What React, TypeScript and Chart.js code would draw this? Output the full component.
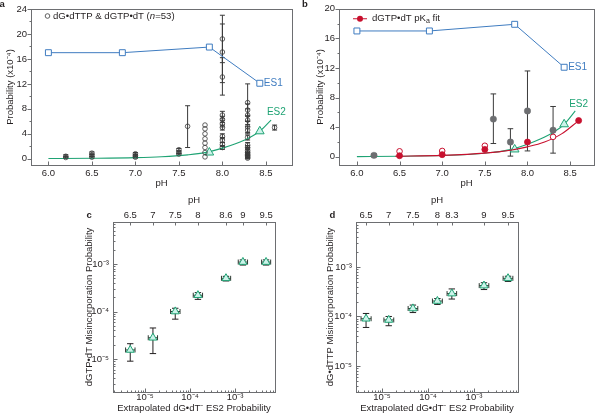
import React, { useEffect, useRef } from 'react';
import { Chart, registerables } from 'chart.js';

Chart.register(...registerables);

const FONT = '"Liberation Sans", Arial, Helvetica, sans-serif';
const TEXT = '#231f20';
const AXIS = '#6d6e71';
const BLUE = '#3f7cc0';
const GREEN = '#1fa374';
const TRI_FILL = '#cdf3ea';
const RED = '#c8102e';
const GREY = '#6d6e71';
const DARK = '#3a3a3a';

Chart.defaults.font.family = FONT;
Chart.defaults.font.size = 9.5;
Chart.defaults.color = TEXT;

// ---------------- panels a & b : probability vs pH ----------------
const ES1_PH = [6.0, 6.85, 7.85, 8.43];
const ES1_PROB = [17.0, 17.0, 17.9, 12.1];
const ES2_PH = [7.85, 8.43];
const ES2_PROB = [1.0, 4.4];
const ES2_FIT_PH = [6.0, 6.5, 7.0, 7.3, 7.6, 7.8, 8.0, 8.15, 8.3, 8.43, 8.56];
const ES2_FIT_PROB = [0.03, 0.08, 0.18, 0.32, 0.62, 0.98, 1.7, 2.4, 3.3, 4.4, 6.2];

// panel a: individual measurements (open circles)
const A_PH = [
  6.2, 6.2, 6.5, 6.5, 6.5, 7.0, 7.0, 7.0, 7.5, 7.5, 7.5, 7.6,
  7.8, 7.8, 7.8, 7.8, 7.8, 7.8, 7.8, 7.8,
  8.0, 8.0, 8.0, 8.0, 8.0, 8.0, 8.0, 8.0, 8.0, 8.0, 8.0,
  8.29, 8.29, 8.29, 8.29, 8.29, 8.29, 8.29, 8.29, 8.29, 8.29, 8.29, 8.29, 8.29, 8.29, 8.29,
  8.6,
];
const A_PROB = [
  0.4, 0.2, 0.9, 0.55, 0.25, 0.8, 0.5, 0.25, 1.45, 1.05, 0.75, 5.2,
  5.4, 4.8, 4.0, 3.2, 2.5, 1.8, 1.0, 0.3,
  19.2, 17.1, 13.1, 7.0, 6.3, 5.6, 5.0, 3.6, 3.0, 2.3, 1.8,
  9.0, 7.8, 7.0, 6.2, 5.1, 4.6, 3.4, 2.2, 1.8, 1.3, 1.0, 0.7, 0.5, 0.3, 0.1,
  5.0,
];
const A_ERR_LO = [
  0.15, 0.05, 0.7, 0.35, 0.1, 0.6, 0.3, 0.1, 1.25, 0.85, 0.6, 1.8,
  null, null, null, null, null, null, null, null,
  15.4, 12.2, 10.2, 6.4, 5.8, 5.1, 4.6, 3.2, 2.6, 2.0, 1.5,
  6.0, 6.8, 6.0, 5.5, 4.2, 4.0, 3.0, 1.8, 1.5, 1.0, 0.8, 0.5, 0.3, 0.1, 0.0,
  4.6,
];
const A_ERR_HI = [
  0.65, 0.35, 1.1, 0.75, 0.4, 1.0, 0.7, 0.4, 1.65, 1.25, 0.9, 8.5,
  null, null, null, null, null, null, null, null,
  23.0, 21.6, 16.2, 7.6, 6.8, 6.1, 5.4, 4.0, 3.4, 2.6, 2.1,
  12.0, 8.8, 8.0, 6.9, 6.0, 5.2, 3.8, 2.6, 2.1, 1.6, 1.2, 0.9, 0.7, 0.5, 0.2,
  5.4,
];

// panel b
const B_MEAN_PH = [6.2, 7.6, 7.8, 8.0, 8.3];
const B_MEAN_PROB = [0.2, 5.1, 2.0, 6.2, 3.6];
const B_MEAN_LO = [0.0, 1.8, 0.1, 0.8, 0.5];
const B_MEAN_HI = [0.4, 8.5, 3.8, 11.6, 6.8];
const B_GTP_PH = [6.5, 7.0, 7.5, 8.0, 8.6];
const B_GTP_PROB = [0.15, 0.3, 1.0, 2.0, 4.9];
const B_OPEN_PH = [6.5, 7.0, 7.5, 8.3];
const B_OPEN_PROB = [0.75, 0.8, 1.5, 2.7];
const B_FIT_PH = [6.45, 7.0, 7.5, 7.8, 8.0, 8.2, 8.4, 8.6];
const B_FIT_PROB = [0.08, 0.2, 0.5, 0.9, 1.35, 2.0, 3.1, 4.9];

const A_X_TICKS = [6.0, 6.5, 7.0, 7.5, 8.0, 8.5];
const A_Y_TICKS = [0, 4, 8, 12, 16, 20, 24];
const A_Y_MINOR = [2, 6, 10, 14, 18, 22];
const B_Y_TICKS = [0, 4, 8, 12, 16, 20];
const B_Y_MINOR = [2, 6, 10, 14, 18];

// ---------------- panels c & d : misincorporation vs ES2 ----------------
const C_PH_LABELS = ['6.5', '7', '7.5', '8', '8.6', '9', '9.5'];
const C_ES2 = [4.7e-6, 1.5e-5, 4.7e-5, 1.5e-4, 6.3e-4, 1.5e-3, 4.9e-3];
const C_ES2_LO = [3.7e-6, 1.18e-5, 3.7e-5, 1.18e-4, 5.0e-4, 1.18e-3, 3.9e-3];
const C_ES2_HI = [6.0e-6, 1.9e-5, 6.0e-5, 1.9e-4, 8.0e-4, 1.9e-3, 6.2e-3];
const C_MIS = [1.55e-5, 2.8e-5, 1.0e-4, 2.2e-4, 5.0e-4, 1.1e-3, 1.1e-3];
const C_MIS_LO = [9e-6, 1.3e-5, 6.9e-5, 1.8e-4, 4.4e-4, 0.95e-3, 0.95e-3];
const C_MIS_HI = [2.1e-5, 4.5e-5, 1.17e-4, 2.5e-4, 5.5e-4, 1.22e-3, 1.22e-3];

const D_PH_LABELS = ['6.5', '7', '7.5', '8', '8.3', '9', '9.5'];
const D_ES2 = [4.5e-6, 1.4e-5, 4.7e-5, 1.6e-4, 3.3e-4, 1.65e-3, 5.5e-3];
const D_ES2_LO = [3.5e-6, 1.1e-5, 3.7e-5, 1.25e-4, 2.6e-4, 1.3e-3, 4.3e-3];
const D_ES2_HI = [5.8e-6, 1.8e-5, 6.0e-5, 2.05e-4, 4.2e-4, 2.1e-3, 7.0e-3];
const D_MIS = [9e-5, 8.5e-5, 1.45e-4, 2.05e-4, 2.9e-4, 4.2e-4, 5.9e-4];
const D_MIS_LO = [6e-5, 6.5e-5, 1.2e-4, 1.75e-4, 2.25e-4, 3.5e-4, 5.1e-4];
const D_MIS_HI = [1.15e-4, 1.0e-4, 1.7e-4, 2.3e-4, 3.6e-4, 4.8e-4, 6.5e-4];

const LOG_TICKS = [1e-5, 1e-4, 1e-3];
const LOG_LABELS = ['10\u207B\u2075', '10\u207B\u2074', '10\u207B\u00B3'];

// ---------------- helpers ----------------
type TickSpec = {
  axis: string; side: 'left' | 'bottom' | 'top'; dir: 'in' | 'out';
  major: number[]; minor?: number[]; majorLen: number; minorLen?: number;
};

function logMinor(min: number, max: number) {
  const out: number[] = [];
  for (let e = Math.floor(Math.log10(min)); e <= Math.ceil(Math.log10(max)); e++) {
    for (let k = 2; k <= 9; k++) {
      const v = k * Math.pow(10, e);
      if (v > min && v < max) out.push(v);
    }
  }
  return out;
}

function framePlugin(specs: TickSpec[]) {
  return {
    id: 'frame',
    afterDraw(chart: any) {
      const { ctx, chartArea: a } = chart;
      const L = Math.round(a.left) + 0.5, T = Math.round(a.top) + 0.5;
      const R = Math.round(a.right) + 0.5, B = Math.round(a.bottom) + 0.5;
      ctx.save();
      ctx.strokeStyle = AXIS;
      ctx.lineWidth = 1;
      ctx.strokeRect(L, T, R - L, B - T);
      for (const s of specs) {
        const sc = chart.scales[s.axis];
        const draw = (v: number, len: number) => {
          const p = Math.round(sc.getPixelForValue(v)) + 0.5;
          ctx.beginPath();
          if (s.side === 'left') {
            const d = s.dir === 'out' ? -len : len;
            ctx.moveTo(L, p); ctx.lineTo(L + d, p);
          } else if (s.side === 'bottom') {
            const d = s.dir === 'out' ? len : -len;
            ctx.moveTo(p, B); ctx.lineTo(p, B + d);
          } else {
            const d = s.dir === 'out' ? -len : len;
            ctx.moveTo(p, T); ctx.lineTo(p, T + d);
          }
          ctx.stroke();
        };
        s.major.forEach((v) => draw(v, s.majorLen));
        (s.minor || []).forEach((v) => draw(v, s.minorLen || 2));
      }
      ctx.restore();
    },
  };
}

const errorBarPlugin = {
  id: 'errbars',
  beforeDatasetsDraw(chart: any) {
    const ctx = chart.ctx;
    chart.data.datasets.forEach((ds: any) => {
      if (!ds.errY && !ds.errX) return;
      const xs = chart.scales[ds.xAxisID || 'x'];
      const ys = chart.scales[ds.yAxisID || 'y'];
      ctx.save();
      ctx.lineWidth = 1;
      ds.data.forEach((p: any, j: number) => {
        const px = xs.getPixelForValue(p.x);
        const py = ys.getPixelForValue(p.y);
        if (ds.errY && ds.errY[j]) {
          const c = ds.errCap;
          const y1 = ys.getPixelForValue(ds.errY[j][0]);
          const y2 = ys.getPixelForValue(ds.errY[j][1]);
          ctx.strokeStyle = ds.errColor;
          ctx.beginPath();
          ctx.moveTo(px, y1); ctx.lineTo(px, y2);
          ctx.moveTo(px - c, y1); ctx.lineTo(px + c, y1);
          ctx.moveTo(px - c, y2); ctx.lineTo(px + c, y2);
          ctx.stroke();
        }
        if (ds.errX && ds.errX[j]) {
          const c = ds.errXCap;
          const x1 = xs.getPixelForValue(ds.errX[j][0]);
          const x2 = xs.getPixelForValue(ds.errX[j][1]);
          ctx.strokeStyle = ds.errXColor;
          ctx.beginPath();
          ctx.moveTo(x1, py); ctx.lineTo(x2, py);
          ctx.moveTo(x1, py - c); ctx.lineTo(x1, py + c);
          ctx.moveTo(x2, py - c); ctx.lineTo(x2, py + c);
          ctx.stroke();
        }
      });
      ctx.restore();
    });
  },
};

type Note = { x: number; y: number; text: string; color: string; align: CanvasTextAlign; dx: number };
function notePlugin(notes: Note[]) {
  return {
    id: 'notes',
    afterDatasetsDraw(chart: any) {
      const { ctx } = chart;
      ctx.save();
      ctx.font = `10px ${FONT}`;
      ctx.textBaseline = 'middle';
      for (const n of notes) {
        ctx.fillStyle = n.color;
        ctx.textAlign = n.align;
        ctx.fillText(n.text, chart.scales.x.getPixelForValue(n.x) + n.dx, chart.scales.y.getPixelForValue(n.y));
      }
      ctx.restore();
    },
  };
}

function drawParts(ctx: any, x: number, y: number, parts: { t: string; style?: string; size?: number; dy?: number }[]) {
  for (const p of parts) {
    ctx.font = `${p.style || ''}${p.size || 9.6}px ${FONT}`;
    ctx.fillText(p.t, x, y + (p.dy || 0));
    x += ctx.measureText(p.t).width;
  }
}

const legendA = {
  id: 'legendA',
  afterDraw(chart: any) {
    const { ctx, chartArea: a } = chart;
    const cy = a.top + 7;
    ctx.save();
    ctx.strokeStyle = DARK;
    ctx.lineWidth = 0.8;
    ctx.beginPath();
    ctx.arc(a.left + 16.5, cy, 2.3, 0, Math.PI * 2);
    ctx.stroke();
    ctx.fillStyle = TEXT;
    ctx.textBaseline = 'middle';
    ctx.textAlign = 'left';
    drawParts(ctx, a.left + 22, cy, [
      { t: 'dG\u2022dTTP & dGTP\u2022dT (' },
      { t: 'n', style: 'italic ' },
      { t: '=53)' },
    ]);
    ctx.restore();
  },
};

const legendB = {
  id: 'legendB',
  afterDraw(chart: any) {
    const { ctx, chartArea: a } = chart;
    const cy = a.top + 10;
    ctx.save();
    ctx.strokeStyle = RED;
    ctx.lineWidth = 1;
    ctx.beginPath();
    ctx.moveTo(a.left + 14, cy); ctx.lineTo(a.left + 28, cy);
    ctx.stroke();
    ctx.fillStyle = RED;
    ctx.beginPath();
    ctx.arc(a.left + 21, cy, 3, 0, Math.PI * 2);
    ctx.fill();
    ctx.fillStyle = TEXT;
    ctx.textBaseline = 'middle';
    ctx.textAlign = 'left';
    drawParts(ctx, a.left + 33, cy, [
      { t: 'dGTP\u2022dT pK' },
      { t: 'a', size: 7, dy: 2.5 },
      { t: ' fit' },
    ]);
    ctx.restore();
  },
};

function axis(o: {
  type: 'linear' | 'logarithmic'; position: 'left' | 'bottom' | 'top'; min: number; max: number;
  ticks: number[]; labels: (v: number, i: number) => string; size: number; tickPad: number;
  title?: string; titlePad?: any;
}) {
  const horiz = o.position !== 'left';
  return {
    type: o.type,
    position: o.position,
    axis: horiz ? 'x' : 'y',
    min: o.min,
    max: o.max,
    bounds: 'data',
    afterBuildTicks: (s: any) => { s.ticks = o.ticks.map((v) => ({ value: v })); },
    afterFit: (s: any) => { if (horiz) s.height = o.size; else s.width = o.size; },
    grid: { display: false, drawTicks: false },
    border: { display: false },
    ticks: {
      padding: o.tickPad, autoSkip: false, maxRotation: 0, minRotation: 0, color: TEXT,
      font: { size: 9.5, lineHeight: 1 },
      callback: (v: any, i: number) => o.labels(v, i),
    },
    title: o.title
      ? { display: true, text: o.title, color: TEXT, font: { size: 9.5, lineHeight: 1.2 }, padding: o.titlePad }
      : { display: false },
  };
}

const pts = (xs: number[], ys: number[]) => xs.map((x, i) => ({ x, y: ys[i] }));
const pairs = (lo: (number | null)[], hi: (number | null)[]) =>
  lo.map((l, i) => (l == null || hi[i] == null ? null : [l, hi[i]]));

const baseOptions = (padding: any) => ({
  responsive: false,
  animation: false,
  devicePixelRatio: 1,
  events: [],
  layout: { padding },
  plugins: { legend: { display: false }, tooltip: { enabled: false }, title: { display: false } },
});

const es1Dataset = () => ({
  data: pts(ES1_PH, ES1_PROB), showLine: true, borderColor: BLUE, borderWidth: 1,
  pointStyle: 'rect', pointRadius: 4.2, pointBorderWidth: 1, pointBorderColor: BLUE,
  pointBackgroundColor: '#ffffff', backgroundColor: '#ffffff', fill: false,
});
const es2Points = () => ({
  data: pts(ES2_PH, ES2_PROB), pointStyle: 'triangle', pointRadius: 5, pointBorderWidth: 1,
  pointBorderColor: GREEN, pointBackgroundColor: TRI_FILL, borderColor: GREEN, backgroundColor: TRI_FILL,
});
const es2Fit = () => ({
  data: pts(ES2_FIT_PH, ES2_FIT_PROB), showLine: true, pointRadius: 0, borderColor: GREEN,
  borderWidth: 1.1, cubicInterpolationMode: 'monotone', fill: false,
});

function configA() {
  return {
    type: 'scatter',
    data: {
      datasets: [
        {
          data: pts(A_PH, A_PROB), pointStyle: 'circle', pointRadius: 2.3, pointBorderWidth: 0.8,
          pointBorderColor: DARK, pointBackgroundColor: 'rgba(255,255,255,0)', borderColor: DARK,
          errY: pairs(A_ERR_LO, A_ERR_HI), errColor: DARK, errCap: 2.5,
        },
        es2Points(),
        es2Fit(),
        es1Dataset(),
      ],
    },
    options: {
      ...baseOptions({ left: 0, top: 9, right: 8, bottom: 0 }),
      scales: {
        x: axis({
          type: 'linear', position: 'bottom', min: 5.8, max: 8.8, ticks: A_X_TICKS,
          labels: (v) => v.toFixed(1), size: 35, tickPad: 4, title: 'pH', titlePad: { top: 0, bottom: 11 },
        }),
        y: axis({
          type: 'linear', position: 'left', min: -1, max: 24, ticks: A_Y_TICKS,
          labels: (v) => String(v), size: 31, tickPad: 4, title: 'Probability (x10\u207B\u2074)',
          titlePad: { top: 4.3, bottom: 0 },
        }),
      },
    },
    plugins: [
      errorBarPlugin,
      framePlugin([
        { axis: 'y', side: 'left', dir: 'out', major: A_Y_TICKS, minor: A_Y_MINOR, majorLen: 4, minorLen: 2 },
        { axis: 'x', side: 'bottom', dir: 'in', major: A_X_TICKS, majorLen: 4 },
      ]),
      notePlugin([
        { x: 8.43, y: 12.1, text: 'ES1', color: BLUE, align: 'left', dx: 4 },
        { x: 8.62, y: 7.5, text: 'ES2', color: GREEN, align: 'center', dx: 0 },
      ]),
      legendA,
    ],
  };
}

function configB() {
  return {
    type: 'scatter',
    data: {
      datasets: [
        {
          data: pts(B_GTP_PH, B_GTP_PROB), pointStyle: 'circle', pointRadius: 3, pointBorderWidth: 0.8,
          pointBorderColor: RED, pointBackgroundColor: RED, borderColor: RED, backgroundColor: RED,
        },
        {
          data: pts(B_OPEN_PH, B_OPEN_PROB), pointStyle: 'circle', pointRadius: 2.8, pointBorderWidth: 1,
          pointBorderColor: RED, pointBackgroundColor: '#ffffff', borderColor: RED, backgroundColor: '#ffffff',
        },
        {
          data: pts(B_MEAN_PH, B_MEAN_PROB), pointStyle: 'circle', pointRadius: 3.2, pointBorderWidth: 0.5,
          pointBorderColor: GREY, pointBackgroundColor: GREY, borderColor: GREY, backgroundColor: GREY,
          errY: pairs(B_MEAN_LO, B_MEAN_HI), errColor: '#3a3a3a', errCap: 2.8,
        },
        {
          data: pts(B_FIT_PH, B_FIT_PROB), showLine: true, pointRadius: 0, borderColor: RED,
          borderWidth: 1.1, cubicInterpolationMode: 'monotone', fill: false,
        },
        es2Points(),
        es2Fit(),
        es1Dataset(),
      ],
    },
    options: {
      ...baseOptions({ left: 0, top: 8, right: 3, bottom: 0 }),
      scales: {
        x: axis({
          type: 'linear', position: 'bottom', min: 5.79, max: 8.78, ticks: A_X_TICKS,
          labels: (v) => v.toFixed(1), size: 35, tickPad: 4, title: 'pH', titlePad: { top: 0, bottom: 11 },
        }),
        y: axis({
          type: 'linear', position: 'left', min: -1.1, max: 20, ticks: B_Y_TICKS,
          labels: (v) => String(v), size: 39, tickPad: 4, title: 'Probability (x10\u207B\u2074)',
          titlePad: { top: 14.3, bottom: 0 },
        }),
      },
    },
    plugins: [
      errorBarPlugin,
      framePlugin([
        { axis: 'y', side: 'left', dir: 'out', major: B_Y_TICKS, minor: B_Y_MINOR, majorLen: 4, minorLen: 2 },
        { axis: 'x', side: 'bottom', dir: 'in', major: A_X_TICKS, majorLen: 4 },
      ]),
      notePlugin([
        { x: 8.43, y: 12.1, text: 'ES1', color: BLUE, align: 'left', dx: 4 },
        { x: 8.6, y: 7.1, text: 'ES2', color: GREEN, align: 'center', dx: 0 },
      ]),
      legendB,
    ],
  };
}

function configLog(p: {
  es2: number[]; es2Lo: number[]; es2Hi: number[]; mis: number[]; misLo: number[]; misHi: number[];
  phLabels: string[]; xMin: number; xMax: number; yMin: number; yMax: number;
  yWidth: number; rightPad: number; yTitle: string; yTitlePad: number;
}) {
  return {
    type: 'scatter',
    data: {
      datasets: [
        {
          data: pts(p.es2, p.mis), pointStyle: 'triangle', pointRadius: 4.6, pointBorderWidth: 1,
          pointBorderColor: GREEN, pointBackgroundColor: TRI_FILL, borderColor: GREEN, backgroundColor: TRI_FILL,
          errY: pairs(p.misLo, p.misHi), errColor: TEXT, errCap: 3.2,
          errX: pairs(p.es2Lo, p.es2Hi), errXColor: '#2d3b33', errXCap: 2.5,
        },
      ],
    },
    options: {
      ...baseOptions({ left: 0, top: 0, right: p.rightPad, bottom: 0 }),
      scales: {
        x: axis({
          type: 'logarithmic', position: 'bottom', min: p.xMin, max: p.xMax, ticks: LOG_TICKS,
          labels: (_v, i) => LOG_LABELS[i], size: 22, tickPad: 1,
          title: 'Extrapolated dG\u2022dT\u207B ES2 Probability', titlePad: { top: 0, bottom: 0 },
        }),
        x2: axis({
          type: 'logarithmic', position: 'top', min: p.xMin, max: p.xMax, ticks: p.es2,
          labels: (_v, i) => p.phLabels[i], size: 34, tickPad: 2, title: 'pH', titlePad: { top: 6.3, bottom: 0 },
        }),
        y: axis({
          type: 'logarithmic', position: 'left', min: p.yMin, max: p.yMax, ticks: LOG_TICKS,
          labels: (_v, i) => LOG_LABELS[i], size: p.yWidth, tickPad: 4,
          title: p.yTitle, titlePad: { top: p.yTitlePad, bottom: 0 },
        }),
      },
    },
    plugins: [
      errorBarPlugin,
      framePlugin([
        { axis: 'y', side: 'left', dir: 'in', major: LOG_TICKS, minor: logMinor(p.yMin, p.yMax), majorLen: 4, minorLen: 2 },
        { axis: 'x', side: 'bottom', dir: 'in', major: LOG_TICKS, minor: logMinor(p.xMin, p.xMax), majorLen: 4, minorLen: 2 },
        { axis: 'x2', side: 'top', dir: 'in', major: p.es2, majorLen: 3 },
      ]),
    ],
  };
}

const configC = () =>
  configLog({
    es2: C_ES2, es2Lo: C_ES2_LO, es2Hi: C_ES2_HI, mis: C_MIS, misLo: C_MIS_LO, misHi: C_MIS_HI,
    phLabels: C_PH_LABELS, xMin: 1.945e-6, xMax: 7.74e-3, yMin: 2.02e-6, yMax: 7.66e-3,
    yWidth: 113, rightPad: 25, yTitle: 'dGTP\u2022dT Misincorporation Probability', yTitlePad: 83.3,
  });

const configD = () =>
  configLog({
    es2: D_ES2, es2Lo: D_ES2_LO, es2Hi: D_ES2_HI, mis: D_MIS, misLo: D_MIS_LO, misHi: D_MIS_HI,
    phLabels: D_PH_LABELS, xMin: 2.72e-6, xMax: 9.06e-3, yMin: 2.98e-6, yMax: 8.1e-3,
    yWidth: 56, rightPad: 82, yTitle: 'dG\u2022dTTP Misincorporation Probability', yTitlePad: 24.3,
  });

function Panel({ left, top, width, height, make }: { left: number; top: number; width: number; height: number; make: () => any }) {
  const ref = useRef<HTMLCanvasElement>(null);
  useEffect(() => {
    const chart = new Chart(ref.current as HTMLCanvasElement, make());
    return () => chart.destroy();
  }, []);
  return (
    <div style={{ position: 'absolute', left, top, width, height }}>
      <canvas ref={ref} width={width} height={height} style={{ width, height, display: 'block' }} />
    </div>
  );
}

const letter = (left: number, top: number): React.CSSProperties => ({
  position: 'absolute', left, top, fontFamily: FONT, fontWeight: 'bold', fontSize: '9.5px',
  lineHeight: '9.5px', color: TEXT,
});

export default function App() {
  return (
    <div style={{ position: 'absolute', left: 0, top: 0, width: 600, height: 414, background: '#ffffff', overflow: 'hidden' }}>
      <Panel left={0} top={0} width={300} height={200} make={configA} />
      <Panel left={300} top={0} width={300} height={200} make={configB} />
      <Panel left={0} top={188} width={300} height={226} make={configC} />
      <Panel left={300} top={188} width={300} height={226} make={configD} />
      <span style={letter(-0.5, -1.2)}>a</span>
      <span style={letter(302, -0.6)}>b</span>
      <span style={letter(86.5, 210.1)}>c</span>
      <span style={letter(329.5, 210.4)}>d</span>
    </div>
  );
}
